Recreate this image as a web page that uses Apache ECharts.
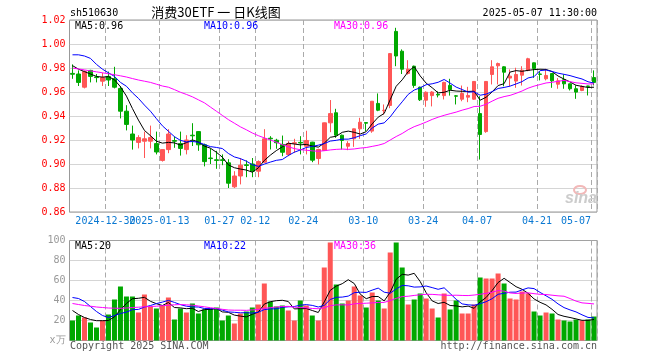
<!DOCTYPE html>
<html><head><meta charset="utf-8">
<script src="https://cdn.jsdelivr.net/npm/echarts@6/dist/echarts.min.js"></script>
<style>html,body{margin:0;padding:0;background:#fff}#c{width:660px;height:360px}</style>
</head><body><div id="c"></div>
<script>
const dates = ['2024-12-20','2024-12-23','2024-12-24','2024-12-25','2024-12-26','2024-12-27','2024-12-30','2024-12-31','2025-01-02','2025-01-03','2025-01-06','2025-01-07','2025-01-08','2025-01-09','2025-01-10','2025-01-13','2025-01-14','2025-01-15','2025-01-16','2025-01-17','2025-01-20','2025-01-21','2025-01-22','2025-01-23','2025-01-24','2025-01-27','2025-02-05','2025-02-06','2025-02-07','2025-02-10','2025-02-11','2025-02-12','2025-02-13','2025-02-14','2025-02-17','2025-02-18','2025-02-19','2025-02-20','2025-02-21','2025-02-24','2025-02-25','2025-02-26','2025-02-27','2025-02-28','2025-03-03','2025-03-04','2025-03-05','2025-03-06','2025-03-07','2025-03-10','2025-03-11','2025-03-12','2025-03-13','2025-03-14','2025-03-17','2025-03-18','2025-03-19','2025-03-20','2025-03-21','2025-03-24','2025-03-25','2025-03-26','2025-03-27','2025-03-28','2025-03-31','2025-04-01','2025-04-02','2025-04-03','2025-04-07','2025-04-08','2025-04-09','2025-04-10','2025-04-11','2025-04-14','2025-04-15','2025-04-16','2025-04-17','2025-04-18','2025-04-21','2025-04-22','2025-04-23','2025-04-24','2025-04-25','2025-04-28','2025-04-29','2025-04-30','2025-05-06','2025-05-07'];

const opens = [
0.9755,0.975,0.964,0.978,0.9725,0.969,0.973,0.971,0.963,0.944,
0.925,0.918,0.919,0.919,0.917,0.903,0.912,0.9195,0.917,0.912,
0.924,0.927,0.916,0.905,0.9035,0.9035,0.901,0.881,0.890,0.8993,
0.900,0.894,0.9015,0.9215,0.9198,0.9163,0.9079,0.9172,0.918,0.9148,
0.9182,0.9046,0.9113,0.9343,0.9427,0.924,0.9148,0.921,0.9293,0.9345,
0.9274,0.9505,0.9445,0.9488,1.0105,0.994,0.9755,0.9815,0.964,0.9532,
0.957,0.958,0.957,0.9655,0.9568,0.954,0.9557,0.954,0.942,0.927,
0.9746,0.9818,0.981,0.9716,0.9691,0.974,0.9779,0.9843,0.975,0.971,
0.9754,0.9665,0.9702,0.9668,0.9627,0.9613,0.965,0.972];

const closes = [
0.9748,0.968,0.977,0.973,0.972,0.972,0.970,0.964,0.944,0.933,
0.920,0.922,0.921,0.922,0.910,0.912,0.925,0.919,0.913,0.920,
0.9235,0.916,0.902,0.9045,0.903,0.903,0.884,0.890,0.899,0.8988,
0.894,0.902,0.921,0.921,0.9177,0.9098,0.9171,0.9177,0.9175,0.9196,
0.9032,0.9121,0.9343,0.942,0.924,0.9196,0.9171,0.9293,0.9348,0.934,
0.9523,0.9448,0.9448,0.992,0.990,0.979,0.979,0.9655,0.9535,0.9598,
0.960,0.9575,0.968,0.962,0.9565,0.9588,0.9571,0.9688,0.9246,0.9688,
0.981,0.9837,0.9765,0.9732,0.9746,0.9782,0.9877,0.9796,0.9747,0.9738,
0.9693,0.9693,0.9668,0.9627,0.9599,0.9647,0.9647,0.968];

const lows = [
0.971,0.965,0.963,0.968,0.968,0.965,0.965,0.963,0.938,0.928,
0.912,0.913,0.905,0.913,0.908,0.902,0.909,0.9135,0.907,0.908,
0.915,0.911,0.898,0.900,0.896,0.899,0.880,0.880,0.883,0.889,
0.889,0.889,0.901,0.9121,0.9127,0.9065,0.9065,0.9093,0.908,0.908,
0.9015,0.8996,0.911,0.9265,0.9218,0.9121,0.9115,0.9143,0.921,0.9274,
0.926,0.944,0.9413,0.9465,0.9815,0.975,0.9745,0.9635,0.9525,0.9477,
0.948,0.9555,0.9538,0.957,0.9496,0.9523,0.9515,0.9535,0.9037,0.926,
0.9663,0.9663,0.9648,0.9648,0.9635,0.9654,0.9773,0.9718,0.9697,0.9697,
0.9635,0.9627,0.9627,0.9613,0.9543,0.9607,0.9571,0.9655];

const highs = [
0.983,0.978,0.978,0.9785,0.975,0.976,0.977,0.981,0.965,0.949,
0.932,0.924,0.927,0.932,0.927,0.9125,0.929,0.923,0.927,0.924,
0.934,0.9275,0.917,0.913,0.911,0.908,0.904,0.894,0.905,0.903,
0.905,0.903,0.929,0.9232,0.921,0.9237,0.919,0.921,0.9232,0.9277,
0.9185,0.9127,0.9345,0.9533,0.946,0.9245,0.919,0.9295,0.9385,0.9348,
0.9525,0.9588,0.9496,0.9925,1.0135,0.9955,0.9865,0.982,0.9645,0.9605,
0.9607,0.9605,0.9685,0.971,0.9575,0.9654,0.9643,0.969,0.9565,0.969,
0.9865,0.9845,0.9815,0.9788,0.9802,0.9815,0.9885,0.9845,0.9774,0.9793,
0.9755,0.9716,0.9746,0.967,0.9655,0.9655,0.9652,0.978];

const volumes = [
20,25,23,18,13,20,26,41,54,44,
44,28,46,34,32,35,43,21,32,28,
37,27,31,32,33,20,25,17,27,29,
33,36,57,39,34,35,30,20,40,35,
25,20,73,98,56,37,40,54,45,33,
48,40,32,88,98,73,36,41,47,42,
32,23,47,31,40,27,27,36,63,62,
62,67,57,42,41,49,47,29,25,28,
27,21,20,19,21,20,21,24];

const ma5Head = [0.982,0.979,0.977,0.975];
const ma10Head = [0.991,0.991,0.990,0.988,0.983,0.979,0.976,0.973,0.968];
const ma30Head = [0.980,0.9792,0.9784,0.9776,0.9768,0.976,0.9752,0.9744,0.9735,0.9725,0.9712,0.970,0.969,0.968,0.9665,0.965,0.964,0.962,0.9598,0.958,0.956,0.9535,0.951,0.9475,0.944,0.9405,0.937,0.934,0.931];
const vma5Head = [30,26,23,21];
const vma10Head = [43,42,39,34,29,25,23,25,27];
const vma30Head = [37,36,35,34.3,33.5,33,32.5,32.3,32.2,32.5,33,33.3,33.7,34,34.3,34.8,35.3,35.7,36,35.7,35.3,34.5,33.7,32.8,32,31.2,30.5,30.3,30.3];

const tickIndex = [6,15,25,31,39,49,59,68,78,87];
const tickLabels = ['2024-12-30','2025-01-13','01-27','02-12','02-24','03-10','03-24','04-07','04-21','05-07'];
const priceMALabels = ['MA5:0.96','MA10:0.96','MA30:0.96'];
const volMALabels = ['MA5:20','MA10:22','MA30:36'];

const UP = '#ff5656', DOWN = '#00a800';
const MONO = '"DejaVu Sans Mono", monospace';
const DATE_COLOR = '#0a78d2';

function movingAvg(values, n, head) {
  return values.map((v, i) => {
    if (i < n - 1) return head[i];
    let s = 0;
    for (let k = i - n + 1; k <= i; k++) s += values[k];
    return +(s / n).toFixed(5);
  });
}

const kData = dates.map((d, i) => [opens[i], closes[i], lows[i], highs[i]]);
const volData = volumes.map((v, i) => ({value: v, itemStyle: {color: closes[i] >= opens[i] ? UP : DOWN}}));
const tickSet = new Set(tickIndex);
// the first date label overlaps the second one in the original; it is placed on its own axis so both stay visible
const firstRow = new Set(tickIndex.slice(1));
const secondRow = new Set(tickIndex.slice(0, 1));

const chart = echarts.init(document.getElementById('c'), null, {renderer: 'canvas'});

function xAxisDef(gi, labelSet, showSplit) {
  return {
    type: 'category', gridIndex: gi, data: dates, boundaryGap: true, position: 'bottom', offset: 0,
    axisLine: {show: false}, axisTick: {show: false},
    axisLabel: {
      show: labelSet !== null, interval: (i) => labelSet !== null && labelSet.has(i), margin: 4,
      hideOverlap: false,
      color: DATE_COLOR, fontFamily: MONO, fontSize: 10,
      formatter: (v, i) => {
        const k = tickIndex.indexOf(i);
        if (k < 0) return '';
        return (k === tickLabels.length - 1 ? '{e|' : '{n|') + tickLabels[k] + '}';
      },
      rich: {
        n: {padding: [0, 6, 0, 0], color: DATE_COLOR, fontFamily: MONO, fontSize: 10},
        e: {padding: [0, 36, 0, 0], color: DATE_COLOR, fontFamily: MONO, fontSize: 10}
      }
    },
    splitLine: {show: showSplit, interval: (i) => tickSet.has(i), lineStyle: {color: '#aaaaaa', type: [5, 3], width: 1}}
  };
}

function lineSeries(data, color, xi, yi) {
  return {type: 'line', data: data, xAxisIndex: xi, yAxisIndex: yi, symbol: 'none', silent: true,
    lineStyle: {color: color, width: 1}, z: 5, animation: false};
}

function txt(x, y, s, color, opts) {
  opts = opts || {};
  return {type: 'text', x: x, y: y, silent: true, z: 100,
    style: {text: s, fill: color, font: opts.font || ('10px ' + MONO),
      align: opts.align || 'left', textAlign: opts.align || 'left',
      verticalAlign: 'middle', textVerticalAlign: 'middle'}};
}

const option = {
  animation: false,
  backgroundColor: '#ffffff',
  grid: [
    {left: 69.5, top: 20, width: 527.5, height: 192, show: true, borderColor: '#999999', borderWidth: 1, backgroundColor: 'transparent'},
    {left: 69.5, top: 240.5, width: 527.5, height: 100, show: true, borderColor: '#999999', borderWidth: 1, backgroundColor: 'transparent'}
  ],
  xAxis: [xAxisDef(0, firstRow, true), xAxisDef(1, null, true), xAxisDef(0, secondRow, false)],
  yAxis: [
    {type: 'value', gridIndex: 0, min: 0.86, max: 1.02, interval: 0.02, scale: true,
      axisLine: {show: false}, axisTick: {show: false},
      axisLabel: {color: '#ff0000', fontFamily: MONO, fontSize: 10, margin: 4, formatter: (v) => v.toFixed(2)},
      splitLine: {show: true, lineStyle: {color: '#aaaaaa', type: 'dotted', width: 1}}},
    {type: 'value', gridIndex: 1, min: 0, max: 100, interval: 20,
      axisLine: {show: false}, axisTick: {show: false},
      axisLabel: {color: '#999999', fontFamily: MONO, fontSize: 10, margin: 4,
        formatter: (v) => v === 0 ? 'x万' : String(v)},
      splitLine: {show: true, lineStyle: {color: '#aaaaaa', type: 'dotted', width: 1}}}
  ],
  series: [
    {type: 'candlestick', xAxisIndex: 0, yAxisIndex: 0, data: kData, barWidth: 4, z: 3,
      itemStyle: {color: UP, color0: DOWN, borderColor: UP, borderColor0: DOWN, borderWidth: 1}},
    lineSeries(movingAvg(closes, 5, ma5Head), '#000000', 0, 0),
    lineSeries(movingAvg(closes, 10, ma10Head), '#0000ff', 0, 0),
    lineSeries(movingAvg(closes, 30, ma30Head), '#ff00ff', 0, 0),
    {type: 'bar', xAxisIndex: 1, yAxisIndex: 1, data: volData, barWidth: 5, z: 3},
    lineSeries(movingAvg(volumes, 5, vma5Head), '#000000', 1, 1),
    lineSeries(movingAvg(volumes, 10, vma10Head), '#0000ff', 1, 1),
    lineSeries(movingAvg(volumes, 30, vma30Head), '#ff00ff', 1, 1)
  ],
  graphic: [
    txt(70, 13.5, 'sh510630', '#000000'),
    txt(216, 12, '消费30ETF 一 日K线图', '#000000', {align: 'center', font: '13px "Noto Sans CJK SC"'}),
    txt(597, 13.5, '2025-05-07 11:30:00', '#000000', {align: 'right'}),
    txt(75, 26, priceMALabels[0], '#000000'),
    txt(204, 26, priceMALabels[1], '#0000ff'),
    txt(334, 26, priceMALabels[2], '#ff00ff'),
    txt(75, 246.5, volMALabels[0], '#000000'),
    txt(204, 246.5, volMALabels[1], '#0000ff'),
    txt(334, 246.5, volMALabels[2], '#ff00ff'),
    txt(70, 346, 'Copyright 2025 SINA.COM', '#555555'),
    txt(597, 346, 'http://finance.sina.com.cn', '#555555', {align: 'right'}),
    {type: 'ellipse', shape: {cx: 580, cy: 190, rx: 6, ry: 4}, silent: true, z: 1,
      style: {fill: 'none', stroke: '#f2b8b8', lineWidth: 2}},
    txt(581, 199, 'sina', '#cccccc', {align: 'center', font: 'italic bold 16px "Liberation Sans"'})
  ]
};
chart.setOption(option);
</script>
</body></html>
